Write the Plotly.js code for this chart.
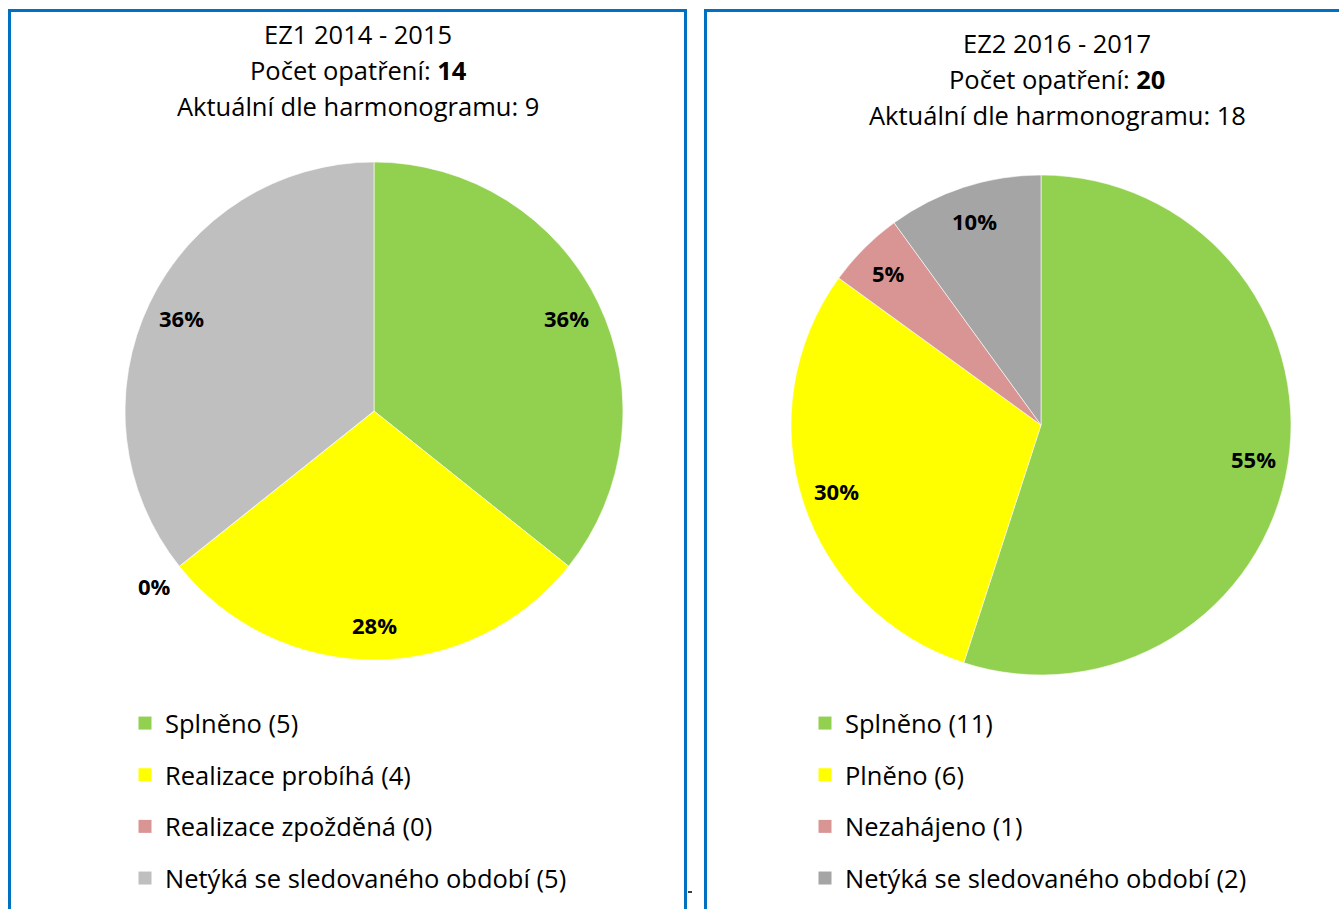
<!DOCTYPE html>
<html>
<head>
<meta charset="utf-8">
<script src="https://cdn.plot.ly/plotly-3.0.1.min.js"></script>
<style>html,body{margin:0;padding:0;background:#fff;}#chart{width:1339px;height:909px;}</style>
</head>
<body>
<div id="chart"></div>
<script>
// ---- data ----
const labels1 = ["Splněno (5)", "Realizace probíhá (4)", "Realizace zpožděná (0)", "Netýká se sledovaného období (5)"];
const values1 = [5, 4, 0, 5];
const pctText1 = ["36%", "28%", "0%", "36%"];
const colors1 = ["#92D050", "#FFFF00", "#D99594", "#BFBFBF"];
const title1 = ["EZ1 2014 - 2015", "Počet opatření: <b>14</b>", "Aktuální dle harmonogramu: 9"];

const labels2 = ["Splněno (11)", "Plněno (6)", "Nezahájeno (1)", "Netýká se sledovaného období (2)"];
const values2 = [11, 6, 1, 2];
const pctText2 = ["55%", "30%", "5%", "10%"];
const colors2 = ["#92D050", "#FFFF00", "#D99594", "#A5A5A5"];
const title2 = ["EZ2 2016 - 2017", "Počet opatření: <b>20</b>", "Aktuální dle harmonogramu: 18"];

// ---- layout helpers ----
const W = 1339, H = 909;
const FONT = "'Open Sans', 'Noto Sans', sans-serif";
const px = v => v / W;
const py = v => 1 - v / H;

function pieTrace(labels, values, text, colors, cx, cy, r) {
  return {
    type: 'pie',
    labels: labels, values: values, text: text,
    textinfo: 'none',
    sort: false, direction: 'clockwise', rotation: 0,
    marker: {colors: colors, line: {color: '#ffffff', width: 0.6}},
    showlegend: false, hoverinfo: 'label+percent',
    domain: {x: [px(cx - r), px(cx + r)], y: [py(cy + r), py(cy - r)]}
  };
}

// percentage labels placed along each slice's mid-angle (computed from the values)
function sliceLabels(values, text, cx, cy, r) {
  const total = values.reduce((a, b) => a + b, 0);
  let cum = 0;
  return values.map((v, i) => {
    const mid = (cum + v / 2) / total * 2 * Math.PI;
    cum += v;
    const d = r * (v === 0 ? 1.13 : 0.86);
    return {
      xref: 'paper', yref: 'paper',
      x: px(cx + d * Math.sin(mid)), y: py(cy - d * Math.cos(mid)),
      xanchor: 'center', yanchor: 'middle', showarrow: false,
      text: text[i], font: {family: FONT, size: 22, color: '#000000', weight: 'bold'}
    };
  });
}

const P1 = {cx: 374, cy: 411, r: 249};
const P2 = {cx: 1041, cy: 425, r: 250};

const traces = [
  pieTrace(labels1, values1, pctText1, colors1, P1.cx, P1.cy, P1.r),
  pieTrace(labels2, values2, pctText2, colors2, P2.cx, P2.cy, P2.r)
];

// legend entries (one per slice, so the gap between entries can be set)
function legendEntries(labels, colors, legendId) {
  return labels.map((lab, i) => ({
    type: 'scatter', mode: 'markers', x: [null], y: [null],
    name: lab, legendgroup: legendId + '_' + i, legend: legendId,
    marker: {symbol: 'square', size: 13, color: colors[i]},
    hoverinfo: 'skip'
  }));
}
traces.push(...legendEntries(labels1, colors1, 'legend'));
traces.push(...legendEntries(labels2, colors2, 'legend2'));

function titleAnns(lines, cx, y0) {
  return lines.map((t, i) => ({
    xref: 'paper', yref: 'paper', x: px(cx), y: py(y0 + 36 * i),
    xanchor: 'center', yanchor: 'middle', showarrow: false,
    text: t, font: {family: FONT, size: 25.5, color: '#000000'}
  }));
}

const legendFont = {family: FONT, size: 25.5, color: '#000000'};
const layout = {
  width: W, height: H,
  margin: {l: 0, r: 0, t: 0, b: 0},
  paper_bgcolor: '#ffffff', plot_bgcolor: 'rgba(0,0,0,0)',
  xaxis: {visible: false}, yaxis: {visible: false},
  legend: {x: px(125), y: py(700), xanchor: 'left', yanchor: 'top',
           font: legendFont, tracegroupgap: 15.5, bgcolor: 'rgba(0,0,0,0)', itemclick: false},
  legend2: {x: px(805), y: py(700), xanchor: 'left', yanchor: 'top',
            font: legendFont, tracegroupgap: 15.5, bgcolor: 'rgba(0,0,0,0)', itemclick: false},
  annotations: [
    ...titleAnns(title1, 358, 34), ...titleAnns(title2, 1057, 43),
    ...sliceLabels(values1, pctText1, P1.cx, P1.cy, P1.r),
    ...sliceLabels(values2, pctText2, P2.cx, P2.cy, P2.r)
  ],
  shapes: [
    {type: 'rect', xref: 'paper', yref: 'paper', x0: px(9.5), x1: px(685.5), y0: py(930), y1: py(10.5),
     line: {color: '#0070C0', width: 3}},
    {type: 'rect', xref: 'paper', yref: 'paper', x0: px(705.5), x1: px(1360), y0: py(930), y1: py(10.5),
     line: {color: '#0070C0', width: 3}},
    {type: 'line', xref: 'paper', yref: 'paper', x0: px(688), x1: px(692), y0: py(892), y1: py(892),
     line: {color: '#000000', width: 1.5}}
  ],
  showlegend: true
};

Plotly.newPlot('chart', traces, layout, {displayModeBar: false, staticPlot: true});
</script>
</body>
</html>
